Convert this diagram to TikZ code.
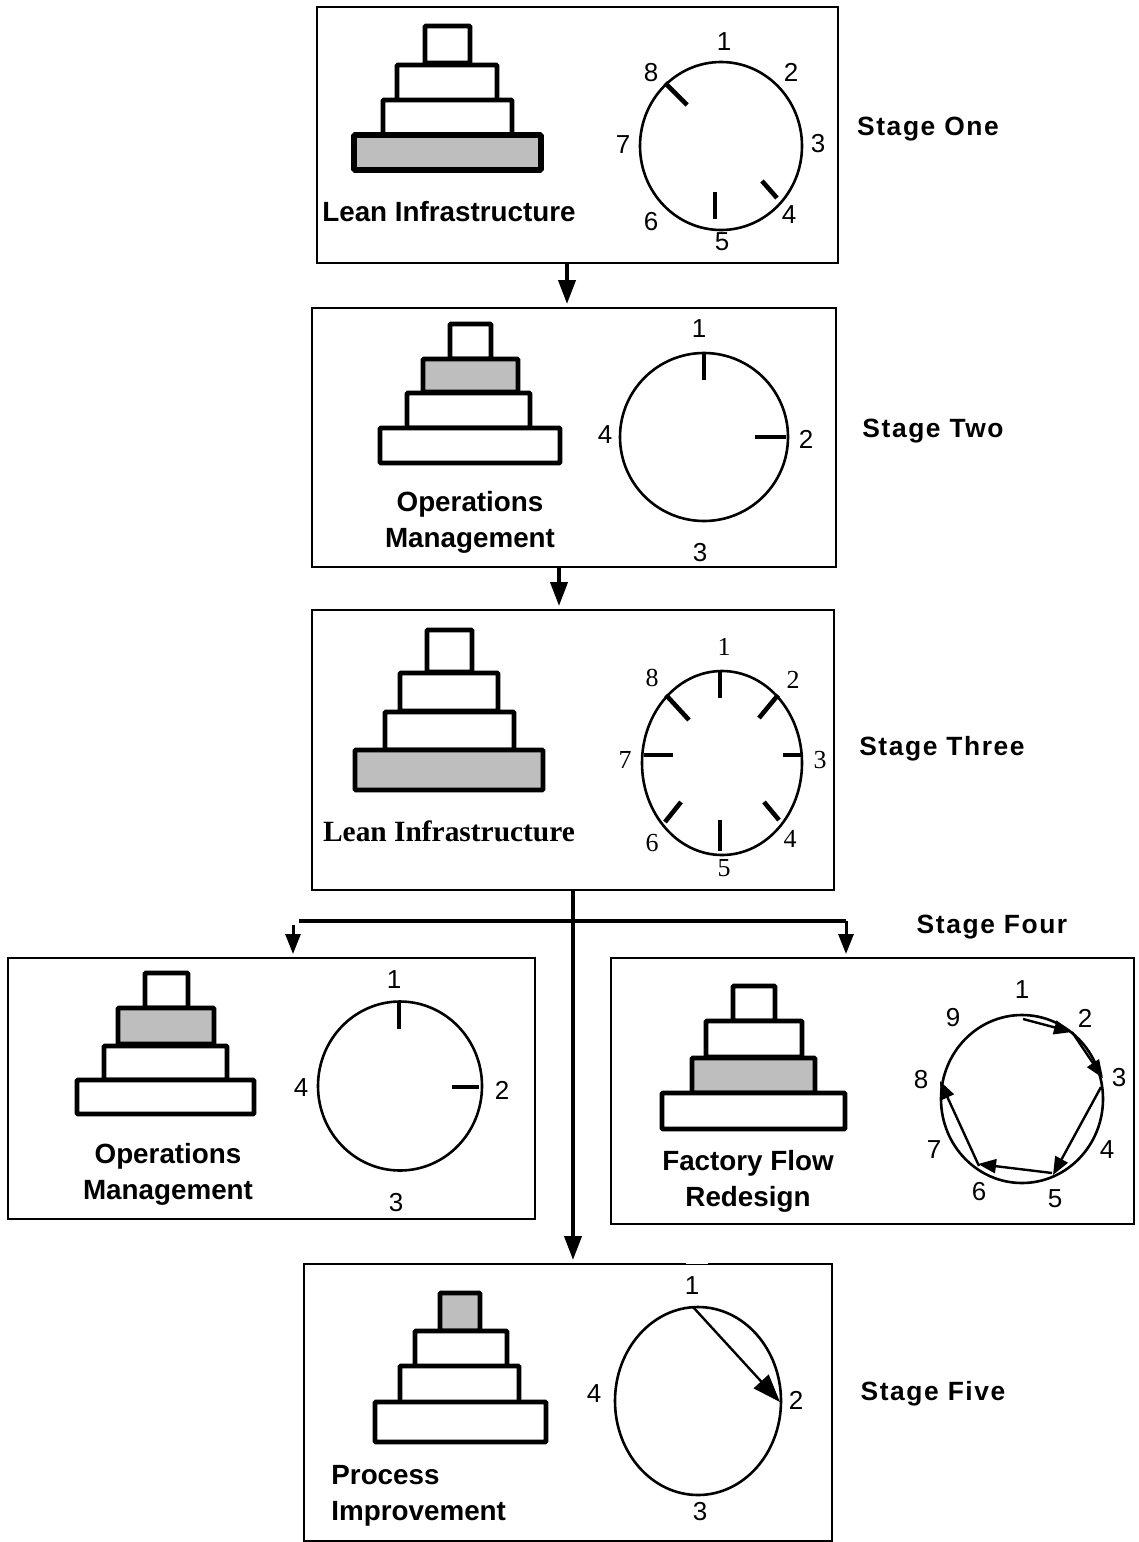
\documentclass[tikz,border=0pt]{standalone}
\usepackage{fontspec}
\setmainfont{Liberation Sans}
\newfontfamily\stagefont[LetterSpace=6]{Liberation Sans}
\newfontfamily\serifont{Liberation Serif}
\usetikzlibrary{arrows.meta,positioning,shapes.geometric,fit}
\definecolor{tiergrey}{HTML}{BEBEBE}

\begin{document}
\begin{tikzpicture}[
  x=0.5pt, y=-0.5pt,
  stagebox/.style={draw, line width=1pt, inner sep=0pt},
  tier/.style={draw, line width=2.4pt, rounded corners=0.5pt, inner sep=0pt, fill=white},
  greytier/.style={tier, fill=tiergrey},
  dial/.style={draw, ellipse, line width=1.3pt, inner sep=0pt},
  dialtick/.style={line width=2.3pt},
  dialnum/.style={font=\fontsize{13}{15}\selectfont, inner sep=0pt, yshift=-0.5pt},
  serifnum/.style={font=\serifont\fontsize{13}{15}\selectfont, inner sep=0pt, yshift=-0.5pt},
  title/.style={font=\bfseries\fontsize{13.9}{18}\selectfont, align=center, inner sep=0pt},
  stagename/.style={font=\stagefont\bfseries\fontsize{13.2}{15}\selectfont, inner sep=0pt},
  flow/.style={-{Triangle[length=12pt,width=8.5pt]}, line width=2pt, shorten >=1.5pt},
  sideflow/.style={-{Triangle[length=10pt,width=7.5pt]}, line width=1.5pt, shorten >=1.5pt},
  hop/.style={-{Triangle[length=9pt,width=7pt]}, line width=1.2pt},
]
  \useasboundingbox (0,0) rectangle (1139,1542);

  % Stage one
  \node[stagebox, fit={(317,7)(838,263)}] (box1) {};
  \node[tier, fit={(425,26)(470,63)}] (a1) {};
  \node[tier, fit={(397,65)(497,101)}] (a2) {};
  \node[tier, fit={(383,100)(512,136)}] (a3) {};
  \node[greytier, line width=2.8pt, fit={(354,135)(541,170)}] (a4) {};
  \node[title] (t1) at (449,212) {Lean Infrastructure};
  \node[dial, minimum width=81pt, minimum height=84pt] (d1) at (721,146) {};
  \foreach \n/\px/\py in {1/724/41,2/791/71,3/818/143,4/789/214,5/722/241,6/651/221,7/623/144,8/651/72}
    \node[dialnum] (n1\n) at (\px,\py) {\n};
  \draw[dialtick] (665,83) -- (687,105);
  \draw[dialtick] (777,198) -- (762,181);
  \draw[dialtick] (715,219) -- (715,192);
  \node[stagename] (s1) at (928,129) {Stage One};

  % Stage two
  \node[stagebox, fit={(312,308)(836,567)}] (box2) {};
  \node[tier, fit={(450,324)(491,359)}] (b1) {};
  \node[greytier, fit={(423,359)(518,392)}] (b2) {};
  \node[tier, fit={(407,393)(530,428)}] (b3) {};
  \node[tier, fit={(380,428)(560,463)}] (b4) {};
  \node[title] (t2) at (470,522) {Operations\\Management};
  \node[dial, minimum width=84pt, minimum height=84pt] (d2) at (704,437) {};
  \foreach \n/\px/\py in {1/699/328,2/806/438,3/700/552,4/605/434}
    \node[dialnum] (n2\n) at (\px,\py) {\n};
  \draw[dialtick] (704,353) -- (704,380);
  \draw[dialtick] (786,437) -- (755,437);
  \node[stagename] (s2) at (933,431) {Stage Two};

  % Stage three
  \node[stagebox, fit={(312,610)(834,890)}] (box3) {};
  \node[tier, fit={(427,630)(472,672)}] (c1) {};
  \node[tier, fit={(400,673)(498,711)}] (c2) {};
  \node[tier, fit={(385,712)(514,750)}] (c3) {};
  \node[greytier, fit={(355,750)(543,790)}] (c4) {};
  \node[title, font=\serifont\bfseries\fontsize{14.7}{18}\selectfont] (t3) at (449,831) {Lean Infrastructure};
  \node[dial, minimum width=80pt, minimum height=92pt] (d3) at (722,763) {};
  \foreach \n/\px/\py in {1/724/646,2/793/679,3/820/759,4/790/838,5/724/867,6/652/842,7/625/759,8/652/677}
    \node[serifnum] (n3\n) at (\px,\py) {\n};
  \foreach \ax/\ay/\bx/\by in {720/671/720/698,778/695/759/718,801/755/783/755,779/820/764/802,720/851/720/820,665/822/681/802,644/755/673/755,666/695/689/720}
    \draw[dialtick] (\ax,\ay) -- (\bx,\by);
  \node[stagename] (s3) at (942,749) {Stage Three};

  % Stage four, left
  \node[stagebox, fit={(8,958)(535,1219)}] (box4) {};
  \node[tier, fit={(145,973)(188,1008)}] (e1) {};
  \node[greytier, fit={(118,1008)(214,1044)}] (e2) {};
  \node[tier, fit={(104,1046)(227,1080)}] (e3) {};
  \node[tier, fit={(77,1080)(254,1114)}] (e4) {};
  \node[title] (t4) at (168,1174) {Operations\\Management};
  \node[dial, minimum width=82pt, minimum height=84.5pt] (d4) at (400,1086) {};
  \foreach \n/\px/\py in {1/394/979,2/502/1089,3/396/1202,4/301/1087}
    \node[dialnum] (n4\n) at (\px,\py) {\n};
  \draw[dialtick] (399,1002) -- (399,1029);
  \draw[dialtick] (479,1087) -- (452,1087);

  % Stage four, right
  \node[stagebox, fit={(611,958)(1134,1224)}] (box5) {};
  \node[tier, fit={(733,986)(775,1021)}] (f1) {};
  \node[tier, fit={(706,1021)(802,1057)}] (f2) {};
  \node[greytier, fit={(692,1058)(815,1093)}] (f3) {};
  \node[tier, fit={(662,1093)(845,1129)}] (f4) {};
  \node[title] (t5) at (748,1181) {Factory Flow\\Redesign};
  \node[dial, minimum width=81pt, minimum height=84pt] (d5) at (1022,1099) {};
  \foreach \n/\px/\py in {1/1022/989,2/1085/1017,3/1119/1077,4/1107/1149,5/1055/1198,6/979/1191,7/934/1149,8/921/1079,9/953/1017}
    \node[dialnum] (n5\n) at (\px,\py) {\n};
  \coordinate (p1) at (1023,1019);
  \coordinate (p2) at (1072,1032);
  \coordinate (p3) at (1103,1078);
  \coordinate (p3b) at (1101,1087);
  \coordinate (p5) at (1053,1175);
  \coordinate (p5b) at (1052,1173);
  \coordinate (p6) at (978,1164);
  \coordinate (p6b) at (979,1166);
  \coordinate (p8) at (940,1081);
  \draw[hop] (p1) -- (p2);
  \draw[hop] (p2) -- (p3);
  \draw[hop] (p3b) -- (p5);
  \draw[hop] (p5b) -- (p6);
  \draw[hop] (p6b) -- (p8);
  \node[stagename] (s4) at (992,927) {Stage Four};

  % Stage five
  \node[stagebox, fit={(304,1264)(832,1541)}] (box6) {};
  \draw[white, line width=0.5pt] (686,1263) -- (708,1263);
  \node[greytier, fit={(440,1293)(480,1331)}] (g1) {};
  \node[tier, fit={(415,1331)(507,1368)}] (g2) {};
  \node[tier, fit={(400,1366)(519,1404)}] (g3) {};
  \node[tier, fit={(375,1402)(546,1442)}] (g4) {};
  \node[title, align=left, anchor=west] (t6) at (331,1496) {Process\\Improvement};
  \node[dial, minimum width=83pt, minimum height=94pt] (d6) at (698,1401) {};
  \foreach \n/\px/\py in {1/692/1285,2/796/1399,3/700/1511,4/594/1393}
    \node[dialnum] (n6\n) at (\px,\py) {\n};
  \coordinate (q1) at (693,1307);
  \coordinate (q2) at (780,1402);
  \draw[hop, -{Triangle[length=14pt,width=10pt]}] (q1) -- (q2);
  \node[stagename] (s6) at (933,1394) {Stage Five};

  % Connectors
  \coordinate (brL) at (299,921);
  \coordinate (brR) at (846,921);
  \coordinate (brLd) at (293,925);
  \draw[flow] ([xshift=-5.25pt]box1.south) -- ([xshift=-5.25pt]box1.south |- box2.north);
  \draw[flow] ([xshift=-7.5pt]box2.south) -- ([xshift=-7.5pt]box2.south |- box3.north);
  \draw[flow] (box3.south) -- (box3.south |- box6.north);
  \draw[line width=2.2pt] (brL) -- (brR);
  \draw[sideflow] (brLd) -- (brLd |- box4.north);
  \draw[sideflow] (brR) -- (brR |- box5.north);
\end{tikzpicture}
\end{document}
